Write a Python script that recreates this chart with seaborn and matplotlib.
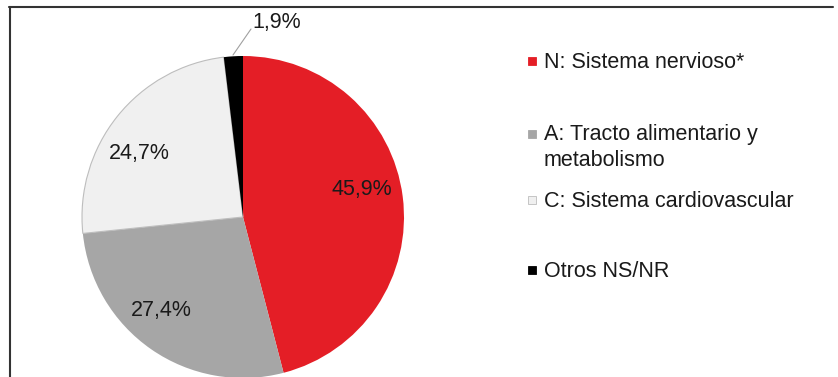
import matplotlib
matplotlib.use("Agg")
import matplotlib.pyplot as plt
from matplotlib.patches import Rectangle
from matplotlib.lines import Line2D
import seaborn as sns

sns.set_theme(style="white")
plt.rcParams['font.family'] = ['Liberation Sans', 'DejaVu Sans']

categories = ["N: Sistema nervioso*", "A: Tracto alimentario y\nmetabolismo",
              "C: Sistema cardiovascular", "Otros NS/NR"]
values = [45.9, 27.4, 24.7, 1.9]
labels = ["45,9%", "27,4%", "24,7%", "1,9%"]
colors = ["#E41E26", "#A6A6A6", "#F0F0F0", "#000000"]

W, H = 838, 377
fig = plt.figure(figsize=(W / 100, H / 100), dpi=100)
ax = fig.add_axes([0, 0, 1, 1])

cx, cy, r = 243, H - 217, 161
wedges, _ = ax.pie(values, colors=colors, startangle=90, counterclock=False,
                   center=(cx, cy), radius=r,
                   wedgeprops=dict(linewidth=0))
wedges[2].set_edgecolor("#BDBDBD")
wedges[2].set_linewidth(0.8)

ax.set_aspect("auto")
ax.set_xlim(0, W)
ax.set_ylim(0, H)
ax.axis("off")

FS = 15.5
# data labels
label_pos = [(362, 188), (161, 309), (139, 152), (277, 21)]
for (x, y), t in zip(label_pos, labels):
    ax.text(x, H - y - 7, t, ha="center", va="baseline", fontsize=FS, color="#1a1a1a")
ax.add_line(Line2D([233, 251], [H - 55, H - 29], color="#A0A0A0", lw=0.8))

# frame (top and left)
ax.add_line(Line2D([9, 833], [H - 7, H - 7], color="#333333", lw=1.5))
ax.add_line(Line2D([9.5, 9.5], [H - 7, 0], color="#333333", lw=1.5))

# legend
leg_y = [61, 134, 200, 270]
pitch = 25
for yy, lab, col in zip(leg_y, categories, colors):
    ec = "#BDBDBD" if col == "#F0F0F0" else col
    ax.add_patch(Rectangle((528, H - yy - 4), 8, 8, facecolor=col,
                           edgecolor=ec, lw=0.6))
    nlines = lab.count("\n") + 1
    ax.text(544, H - yy - 7 - (nlines - 1) * pitch, lab, ha="left", va="baseline",
            fontsize=FS, color="#1a1a1a", linespacing=1.3)

fig.savefig("out.png", dpi=100)
